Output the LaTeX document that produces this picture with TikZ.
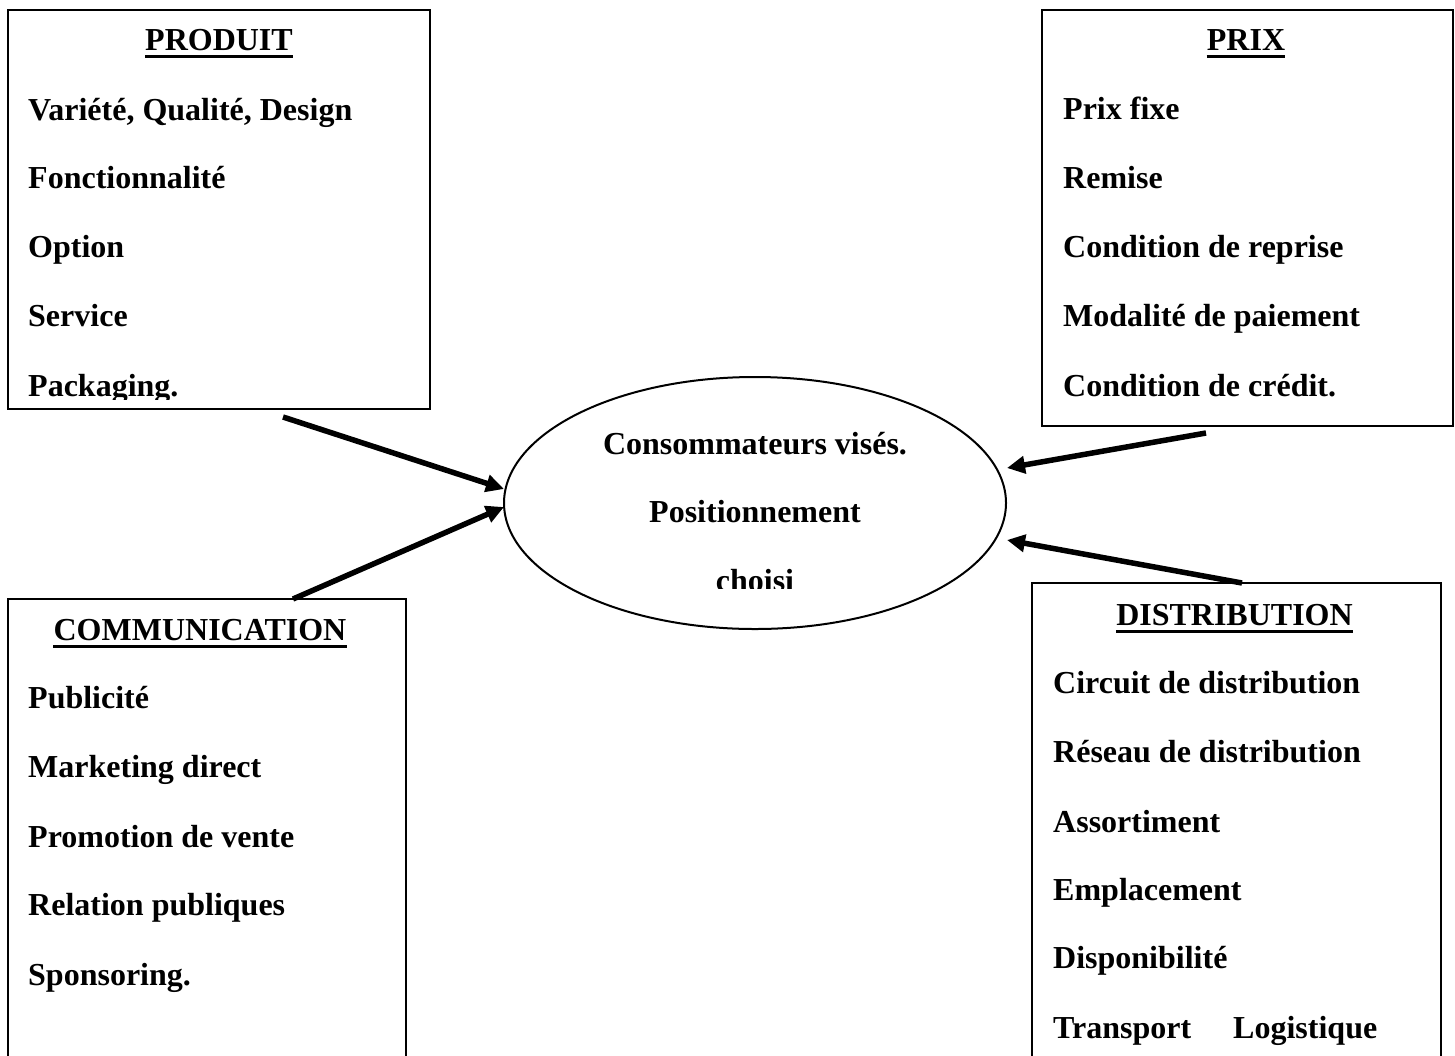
\documentclass[tikz,border=0pt]{standalone}
\usepackage{fontspec}
\setmainfont{Liberation Serif}
\usetikzlibrary{shapes.geometric,arrows.meta,calc}
\begin{document}
\begin{tikzpicture}[x=1pt,y=-1pt,
  box/.style={draw,line width=2pt,inner sep=0pt,outer sep=0pt,anchor=north west},
  item/.style={anchor=base west,inner sep=0pt,font=\fontsize{32}{38}\selectfont\bfseries},
  head/.style={anchor=base,inner sep=0pt,font=\fontsize{32}{38}\selectfont\bfseries},
  ctext/.style={anchor=base,inner sep=0pt,font=\fontsize{32}{38}\selectfont\bfseries},
  uline/.style={line width=3pt},
  arr/.style={line width=5.5pt,-{Triangle[length=18pt,width=17pt]}},
]
\useasboundingbox (0,0) rectangle (1455,1055);

% boxes
\node[box,minimum width=422pt,minimum height=399pt] (produit) at (8,10) {};
\node[box,minimum width=411pt,minimum height=416pt] (prix) at (1042,10) {};
\node[box,minimum width=409pt,minimum height=520pt] (dist) at (1032,583) {};
\node[box,minimum width=398pt,minimum height=520pt] (comm) at (8,599) {};

% central ellipse
\node[draw,ellipse,line width=2pt,minimum width=502pt,minimum height=252pt,inner sep=0pt,outer sep=0pt] (ell) at (755,503) {};

% PRODUIT
\node[head] (hprod) at (219,50) {PRODUIT};
\draw[uline] ([yshift=-6pt]hprod.base west) -- ([yshift=-6pt]hprod.base east);
\begin{scope}
\clip (0,0) rectangle (1455,399);
\node[item] (p1) at (28,120) {Variété, Qualité, Design};
\node[item] (p2) at (28,188) {Fonctionnalité};
\node[item] (p3) at (28,257) {Option};
\node[item] (p4) at (28,326) {Service};
\node[item] (p5) at (28,396) {Packaging.};
\end{scope}

% PRIX
\node[head] (hprix) at (1246,50) {PRIX};
\draw[uline] ([yshift=-6pt]hprix.base west) -- ([yshift=-6pt]hprix.base east);
\node[item] (r1) at (1063,119) {Prix fixe};
\node[item] (r2) at (1063,188) {Remise};
\node[item] (r3) at (1063,257) {Condition de reprise};
\node[item] (r4) at (1063,326) {Modalité de paiement};
\node[item] (r5) at (1063,396) {Condition de crédit.};

% DISTRIBUTION
\node[head] (hdist) at (1234.5,625) {DISTRIBUTION};
\draw[uline] ([yshift=-6pt]hdist.base west) -- ([yshift=-6pt]hdist.base east);
\node[item] (d1) at (1053,693) {Circuit de distribution};
\node[item] (d2) at (1053,762) {Réseau de distribution};
\node[item] (d3) at (1053,832) {Assortiment};
\node[item] (d4) at (1053,900) {Emplacement};
\node[item] (d5) at (1053,968) {Disponibilité};
\node[item] (d6) at (1053,1038) {Transport};
\node[item] (d7) at (1233,1038) {Logistique};

% COMMUNICATION
\node[head] (hcomm) at (200,640) {COMMUNICATION};
\draw[uline] ([yshift=-6pt]hcomm.base west) -- ([yshift=-6pt]hcomm.base east);
\node[item] (c1) at (28,708) {Publicité};
\node[item] (c2) at (28,777) {Marketing direct};
\node[item] (c3) at (28,847) {Promotion de vente};
\node[item] (c4) at (28,915) {Relation publiques};
\node[item] (c5) at (28,985) {Sponsoring.};

% ellipse text
\begin{scope}
\clip (0,0) rectangle (1455,588);
\node[ctext] (e1) at (755,454) {Consommateurs visés.};
\node[ctext] (e2) at (755,522) {Positionnement};
\node[ctext] (e3) at (755,591) {choisi};
\end{scope}

% arrows
\coordinate (s1) at ($(produit.south west)+(275,8)$);
\coordinate (s2) at ($(comm.north west)+(285,0)$);
\coordinate (s3) at ($(prix.south west)+(164,7)$);
\coordinate (s4) at ($(dist.north west)+(210,0)$);
\draw[arr] (s1) -- ($(ell.west)+(0,-14)$);
\draw[arr] (s2) -- ($(ell.west)+(0,4)$);
\draw[arr] (s3) -- ($(ell.east)+(1,-35)$);
\draw[arr] (s4) -- ($(ell.east)+(1,37)$);
\end{tikzpicture}
\end{document}
